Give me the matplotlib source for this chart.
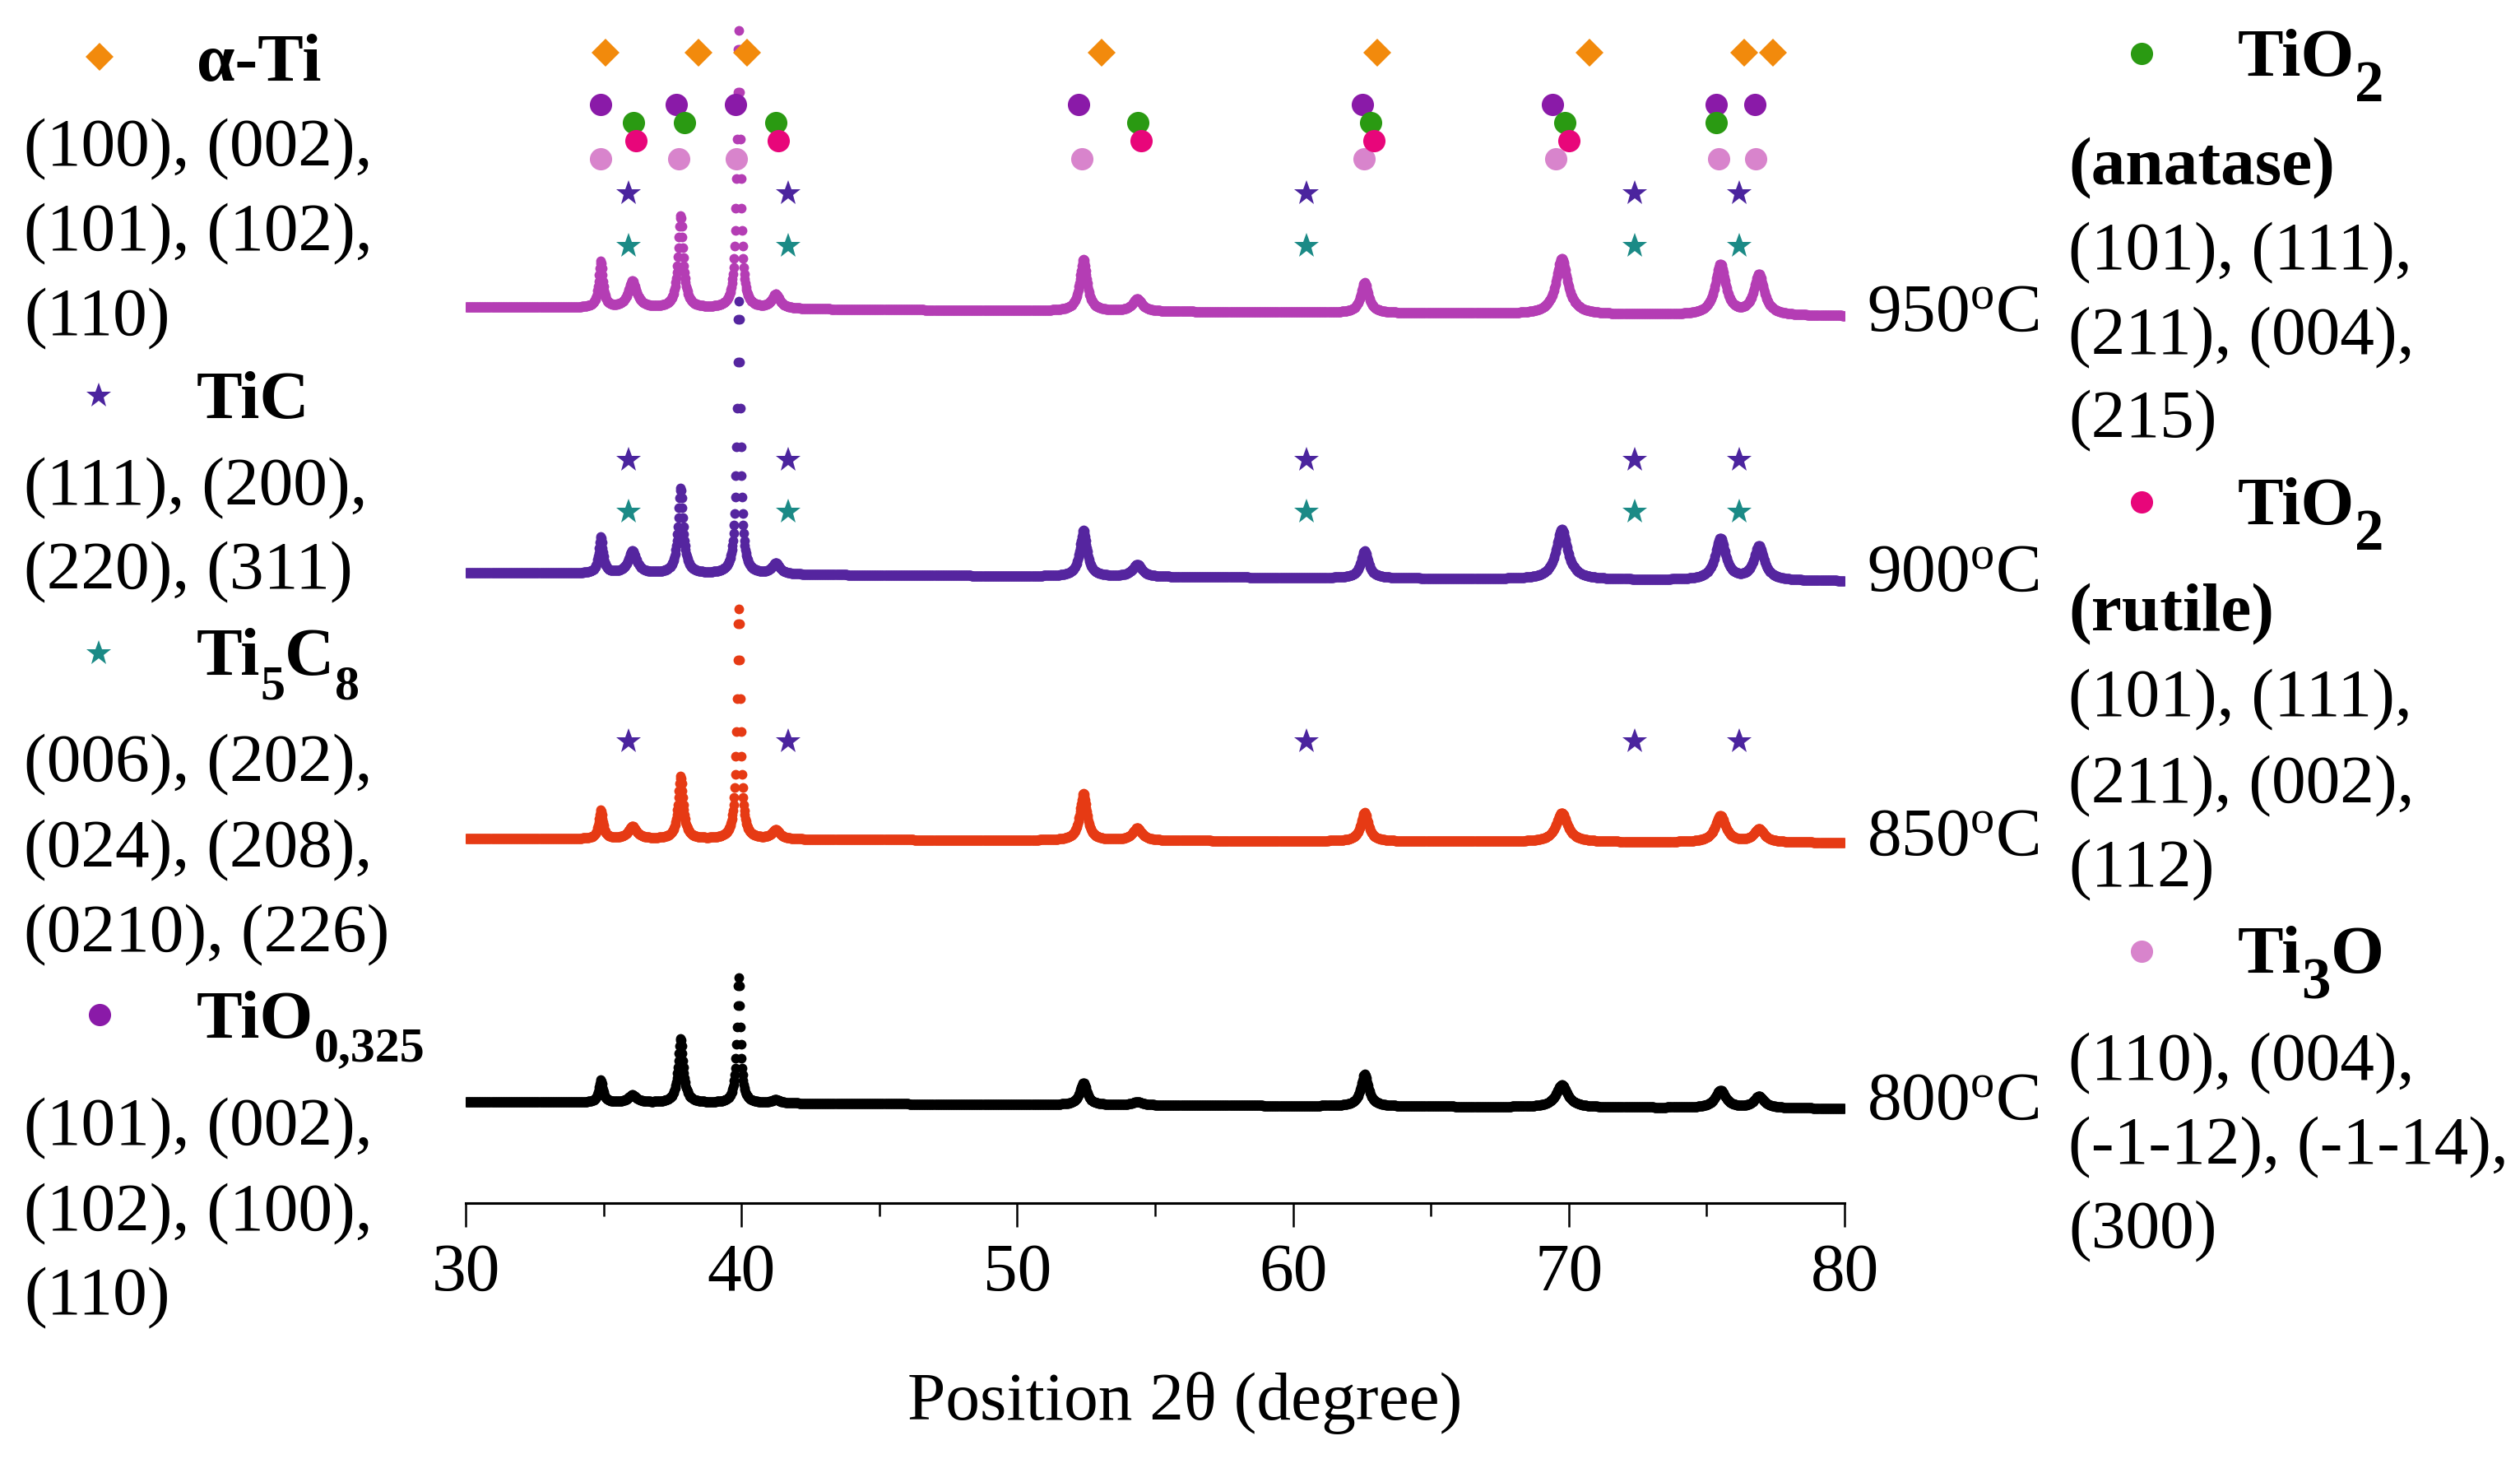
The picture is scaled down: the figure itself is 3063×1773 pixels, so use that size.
import numpy as np
import matplotlib.pyplot as plt
from matplotlib.lines import Line2D

plt.rcParams['font.family'] = 'Liberation Serif'
plt.rcParams['mathtext.fontset'] = 'custom'
plt.rcParams['mathtext.rm'] = 'Liberation Serif'
plt.rcParams['mathtext.it'] = 'Liberation Serif:italic'
plt.rcParams['mathtext.bf'] = 'Liberation Serif:bold'

# ---------------- data ----------------
samples = ['800', '850', '900', '950']
trace_colors = ['#000000', '#E63A14', '#55259F', '#B43DB4']

# peak positions (2theta) and widths (FWHM, degree) seen in the patterns
peak_pos = [34.9, 36.05, 37.8, 39.9, 41.25, 52.4, 54.35, 62.6, 69.75, 75.5, 76.9]
peak_fwhm = [0.18, 0.36, 0.22, 0.15, 0.35, 0.30, 0.40, 0.33, 0.50, 0.45, 0.45]

# peak heights above background (arbitrary units, same scale as offsets)
height_800 = [27, 9, 78, 152, 4, 27, 4, 39, 27, 21, 14]
height_850 = [35, 15, 76, 280, 11, 57, 15, 35, 35, 32, 16]
height_900 = [44, 27, 104, 331, 13, 56, 15, 33, 61, 50, 41]
height_950 = [56, 32, 112, 337, 17, 63, 15, 37, 68, 61, 49]
heights = [height_800, height_850, height_900, height_950]

# background level at 30 and at 80 degree (stacked offsets)
bg_start = [123, 443, 766, 1089]
bg_end = [115, 438, 756, 1078]

# reference peak positions for the identified phases
alpha_ti = [35.07, 38.43, 40.2, 53.07, 63.04, 70.75, 76.35, 77.39]
tio_0325 = [34.89, 37.65, 39.80, 52.24, 62.52, 69.42, 75.36, 76.75]
tio2_anatase = [36.10, 37.93, 41.24, 54.36, 62.81, 69.85, 75.35]
tio2_rutile = [36.17, 41.35, 54.48, 62.93, 70.0]
ti3o = [34.89, 37.74, 39.82, 52.33, 62.58, 69.52, 75.45, 76.78]
tic = [35.9, 41.69, 60.48, 72.39, 76.17]
ti5c8 = [35.9, 41.69, 60.48, 72.39, 76.17]

tth = np.arange(30, 80.0001, 0.02)

# ---------------- figure ----------------
W, H = 3063, 1774
fig = plt.figure(figsize=(W / 100, H / 100), dpi=100)
ax = fig.add_axes([566 / W, (H - 1463) / H, 1676 / W, 1463 / H])

FS = 60

# traces, top one first
for k in [3, 2, 1, 0]:
    y = bg_start[k] + (bg_end[k] - bg_start[k]) * (tth - 30) / 50
    for p, w, h in zip(peak_pos, peak_fwhm, heights[k]):
        y = y + h / (1 + (2 * (tth - p) / w) ** 2)
    ax.plot(tth, y, 'o', color=trace_colors[k], ms=8.5, mew=0, zorder=2 + (3 - k))

# phase markers
ms_d, ms_o, ms_s = 17.8, 19.5, 22.7
c_alpha, c_tio, c_ana, c_rut, c_ti3o = '#F28A0C', '#8A1AA8', '#2A9A12', '#E8067A', '#D884CC'
c_tic, c_ti5c8 = '#4B249E', '#1B8A86'

ax.plot(alpha_ti, [1398] * len(alpha_ti), 'D', color=c_alpha, ms=ms_d, mew=0, zorder=10)
ax.plot(tio_0325, [1335] * len(tio_0325), 'o', color=c_tio, ms=ms_o, mew=0, zorder=10)
ax.plot(tio2_anatase, [1313] * len(tio2_anatase), 'o', color=c_ana, ms=ms_o, mew=0, zorder=11)
ax.plot(tio2_rutile, [1291] * len(tio2_rutile), 'o', color=c_rut, ms=ms_o, mew=0, zorder=12)
ax.plot(ti3o, [1269] * len(ti3o), 'o', color=c_ti3o, ms=ms_o, mew=0, zorder=9)
for yy in [1227, 903, 561]:
    ax.plot(tic, [yy] * len(tic), '*', color=c_tic, ms=ms_s, mew=0, zorder=10)
for yy in [1163, 840]:
    ax.plot(ti5c8, [yy] * len(ti5c8), '*', color=c_ti5c8, ms=ms_s, mew=0, zorder=10)

ax.set_xlim(30, 80)
ax.set_ylim(0, 1463)
for s in ['left', 'right', 'top']:
    ax.spines[s].set_visible(False)
ax.spines['bottom'].set_linewidth(2.2)
ax.set_yticks([])
ax.set_xticks([30, 40, 50, 60, 70, 80])
ax.set_xticks([35, 45, 55, 65, 75], minor=True)
ax.tick_params(axis='x', which='major', direction='out', length=21, width=1.8,
               labelsize=FS, pad=13)
ax.tick_params(axis='x', which='minor', direction='out', length=11.5, width=1.8)
ax.set_xlabel('Position 2θ (degree)', fontsize=FS, va='baseline')
ax.xaxis.set_label_coords((1440 - 566) / 1676, (1463 - 1725) / 1463)

renderer = fig.canvas.get_renderer()


def fx(px):
    return px / W


def fy(py):
    return 1 - py / H


def txt(x, y, s, bold=False):
    fig.text(fx(x), fy(y), s, fontsize=FS, va='baseline', ha='left',
             fontweight='bold' if bold else 'normal')


def chem(x, y, parts, sub_size, sub_drop):
    # bold formula written piece by piece, subscripts smaller and lower
    for s, is_sub in parts:
        t = fig.text(fx(x), fy(y + (sub_drop if is_sub else 0)), s,
                     fontsize=FS * sub_size if is_sub else FS,
                     va='baseline', ha='left', fontweight='bold')
        x = t.get_window_extent(renderer).x1


def sym(x, y, marker, color, ms):
    fig.add_artist(Line2D([fx(x)], [fy(y)], marker=marker, color=color, ms=ms,
                          mew=0, linestyle='none', transform=fig.transFigure))


# temperature labels
for lab, yb in zip(samples, [1360, 1039, 718, 402]):
    txt(2269, yb, lab + r'$^{\mathrm{o}}$C')

# left legend
sym(121, 70, 'D', c_alpha, ms_d)
txt(239, 98, 'α-Ti', bold=True)
txt(29, 201, '(100), (002),')
txt(29, 304, '(101), (102),')
txt(29, 407, '(110)')
sym(120, 482, '*', c_tic, ms_s)
txt(239, 508, 'TiC', bold=True)
txt(29, 613, '(111), (200),')
txt(29, 715, '(220), (311)')
sym(120, 795, '*', c_ti5c8, ms_s)
chem(239, 820, [('Ti', False), ('5', True), ('C', False), ('8', True)], 0.72, 30)
txt(29, 949, '(006), (202),')
txt(29, 1053, '(024), (208),')
txt(29, 1156, '(0210), (226)')
sym(121, 1234, 'o', c_tio, ms_o)
chem(239, 1261, [('TiO', False), ('0,325', True)], 0.72, 28)
txt(29, 1391, '(101), (002),')
txt(29, 1495, '(102), (100),')
txt(29, 1597, '(110)')

# right legend
sym(2603, 66, 'o', c_ana, ms_o)
chem(2720, 92, [('TiO', False), ('2', True)], 0.85, 31)
txt(2514, 224, '(anatase)', bold=True)
txt(2514, 327, '(101), (111),')
txt(2514, 430, '(211), (004),')
txt(2514, 531, '(215)')
sym(2603, 611, 'o', c_rut, ms_o)
chem(2720, 637, [('TiO', False), ('2', True)], 0.85, 31)
txt(2514, 766, '(rutile)', bold=True)
txt(2514, 870, '(101), (111),')
txt(2514, 975, '(211), (002),')
txt(2514, 1077, '(112)')
sym(2603, 1157, 'o', c_ti3o, ms_o)
chem(2720, 1182, [('Ti', False), ('3', True), ('O', False)], 0.85, 31)
txt(2514, 1312, '(110), (004),')
txt(2514, 1414, '(-1-12), (-1-14),')
txt(2514, 1516, '(300)')

fig.savefig('out.png', dpi=100)
